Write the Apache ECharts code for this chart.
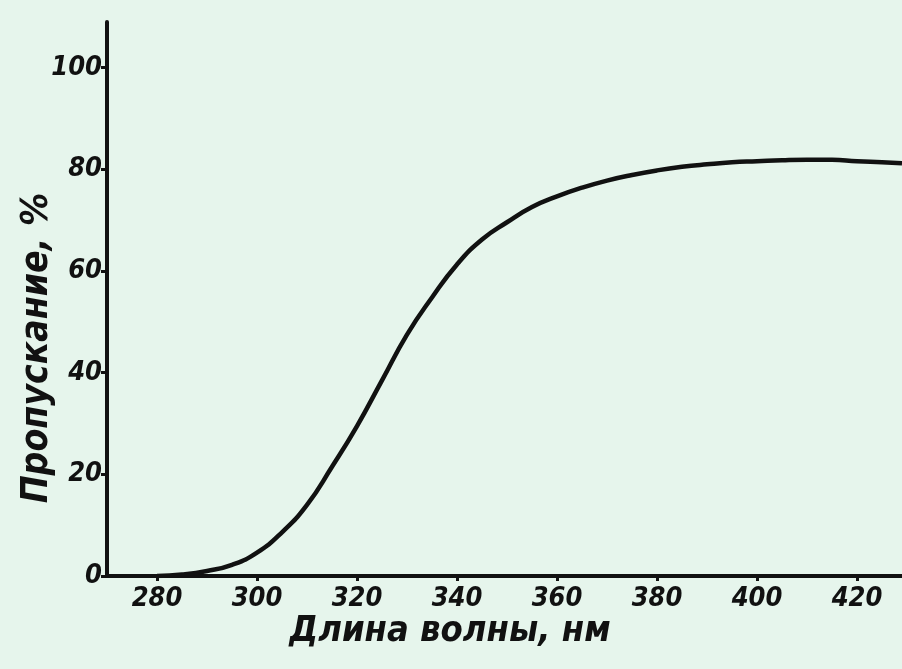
<!DOCTYPE html>
<html>
<head>
<meta charset="utf-8">
<script src="https://cdn.jsdelivr.net/npm/echarts@6/dist/echarts.min.js"></script>
<style>
html,body{margin:0;padding:0;background:#e6f5ec;}
#chart{width:902px;height:669px;}
</style>
</head>
<body>
<div id="chart"></div>
<script>
// Wavelength, nm
var wavelength = [280, 285, 290, 295, 300, 305, 310, 315, 320, 325, 330, 335, 340, 345, 350, 355, 360, 365, 370, 375, 380, 385, 390, 395, 400, 405, 410, 415, 420, 425, 429];
// Transmission, %
var transmission = [0, 0.3, 1.0, 2.2, 4.6, 8.6, 14, 21.5, 29.5, 38.5, 47.5, 54.8, 61.3, 66.2, 69.6, 72.6, 74.7, 76.4, 77.8, 78.9, 79.8, 80.5, 81.0, 81.4, 81.6, 81.8, 81.9, 81.9, 81.6, 81.4, 81.2];
var xTicks = [280, 300, 320, 340, 360, 380, 400, 420];
var yTicks = [0, 20, 40, 60, 80, 100];
var xTitle = 'Длина волны, нм';
var yTitle = 'Пропускание, %';

var points = wavelength.map(function (w, i) { return [w, transmission[i]]; });
var ink = '#111';
var font = "'DejaVu Sans Condensed', 'DejaVu Sans', sans-serif";

var chart = echarts.init(document.getElementById('chart'), null, {renderer: 'canvas'});
chart.setOption({
  backgroundColor: '#e6f5ec',
  animation: false,
  grid: {left: 107, right: 0, top: 22, bottom: 93},
  xAxis: {
    type: 'value', min: 270, max: 429,
    axisLine: {show: true, onZero: false, lineStyle: {color: ink, width: 4}},
    axisTick: {show: true, customValues: xTicks, length: 5, lineStyle: {color: ink, width: 3}},
    axisLabel: {customValues: xTicks, color: ink, fontFamily: font, fontStyle: 'italic', fontWeight: 'bold', fontSize: 27, margin: 9},
    splitLine: {show: false}
  },
  yAxis: {
    type: 'value', min: 0, max: 109,
    axisLine: {show: true, onZero: false, lineStyle: {color: ink, width: 4}},
    axisTick: {show: true, customValues: yTicks, length: 6, lineStyle: {color: ink, width: 3}},
    axisLabel: {customValues: yTicks, color: ink, fontFamily: font, fontStyle: 'italic', fontWeight: 'bold', fontSize: 27, margin: 5},
    splitLine: {show: false}
  },
  graphic: [
    {type: 'text', x: 450, y: 632,
     style: {text: xTitle, fill: ink, font: "italic bold 36px " + font, align: 'center', verticalAlign: 'middle'}},
    {type: 'text', x: 37, y: 348, rotation: Math.PI / 2,
     style: {text: yTitle, fill: ink, font: "italic bold 37px " + font, align: 'center', verticalAlign: 'middle'}}
  ],
  series: [{
    type: 'line', data: points, smooth: 0.5, showSymbol: false,
    lineStyle: {color: ink, width: 4.5}
  }]
});
</script>
</body>
</html>
